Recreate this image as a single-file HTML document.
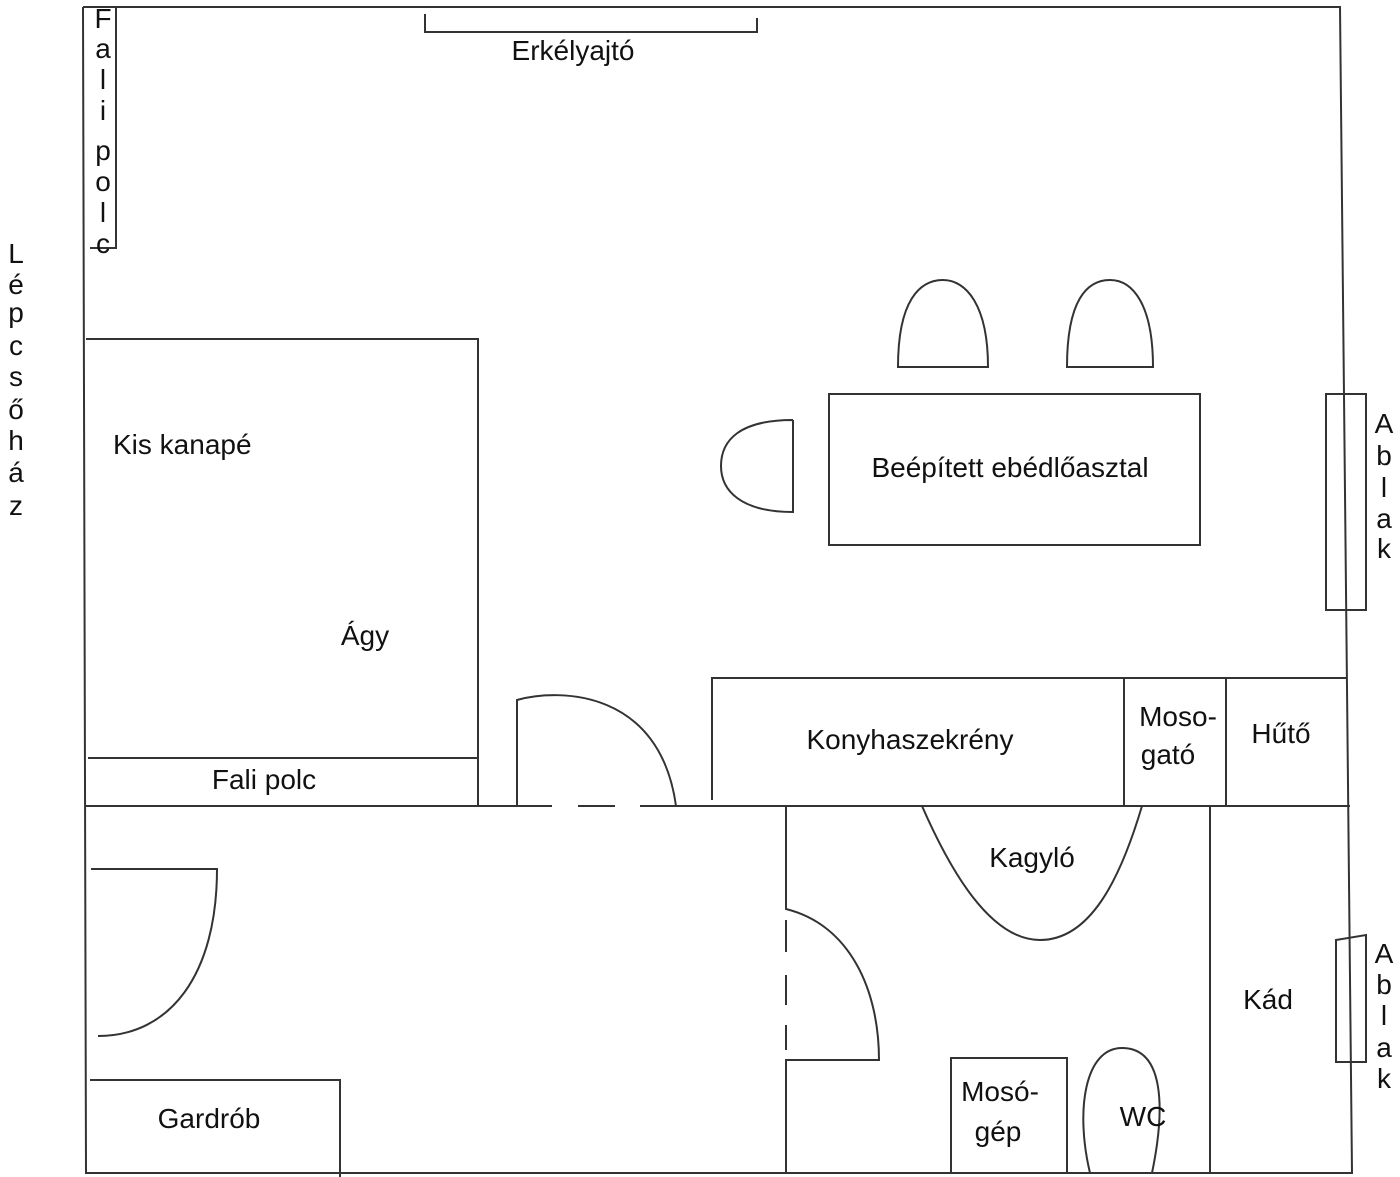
<!DOCTYPE html>
<html><head><meta charset="utf-8"><style>
html,body{margin:0;padding:0;background:#fff;}
svg{display:block;}
text{font-family:"Liberation Sans","DejaVu Sans",sans-serif;font-size:28px;fill:#111;}
.c{text-anchor:middle;}
</style></head><body>
<svg width="1400" height="1177" viewBox="0 0 1400 1177" xmlns="http://www.w3.org/2000/svg">
<g fill="none" stroke="#333" stroke-width="2">
<path d="M83,7 H1340 L1352,1173 H86 L83,7"/>
<path d="M83,7 H116 V248 H90"/>
<path d="M425,14 V32 H757 V18"/>
<path d="M86,339 H478 V806"/>
<path d="M88,758 H478"/>
<path d="M86,806 H517"/>
<path d="M676,806 H1350"/>
<path d="M517,806 V700 C560,688 660,690 676,806"/>
<path d="M517,806 H552 M578,806 H615 M640,806 H676"/>
<path d="M712,800 V678 H1347"/>
<path d="M1124,678 V806 M1226,678 V806"/>
<path d="M898,367 C898,300 920,280 943,280 C966,280 988,305 988,367 Z"/>
<path d="M1067,367 C1067,300 1087,280 1110,280 C1133,280 1153,305 1153,367 Z"/>
<path d="M793,420 V512 C740,512 721,490 721,466 C721,440 740,420 793,420"/>
<rect x="829" y="394" width="371" height="151"/>
<rect x="1326" y="394" width="40" height="216"/>
<path d="M1336,940 L1366,935 V1062 H1336 Z"/>
<path d="M786,806 V909 C850,925 879,990 879,1060 H786 V1173"/>
<path d="M786,920 V952 M786,975 V1005 M786,1025 V1050"/>
<path d="M922,806 C950,870 990,940 1040,940 C1090,940 1120,880 1142,806"/>
<path d="M1210,806 V1173"/>
<rect x="951" y="1058" width="116" height="115"/>
<path d="M1090,1173 C1075,1110 1085,1048 1122,1048 C1165,1048 1165,1110 1152,1173"/>
<path d="M91,869 H217 C217,975 170,1036 98,1036"/>
<path d="M90,1080 H340 V1177"/>
</g>
<g>
<text x="103" y="28" class="c">F</text><text x="103" y="58" class="c">a</text><text x="103" y="89" class="c">l</text><text x="103" y="120" class="c">i</text><text x="103" y="160" class="c">p</text><text x="103" y="191" class="c">o</text><text x="103" y="222" class="c">l</text><text x="103" y="253" class="c">c</text>
<text x="16" y="263" class="c">L</text><text x="16" y="294" class="c">é</text><text x="16" y="322" class="c">p</text><text x="16" y="355" class="c">c</text><text x="16" y="386" class="c">s</text><text x="16" y="419" class="c">ő</text><text x="16" y="450" class="c">h</text><text x="16" y="482" class="c">á</text><text x="16" y="515" class="c">z</text>
<text x="1384" y="433" class="c">A</text><text x="1384" y="465" class="c">b</text><text x="1384" y="497" class="c">l</text><text x="1384" y="528" class="c">a</text><text x="1384" y="558" class="c">k</text>
<text x="1384" y="963" class="c">A</text><text x="1384" y="994" class="c">b</text><text x="1384" y="1025" class="c">l</text><text x="1384" y="1057" class="c">a</text><text x="1384" y="1088" class="c">k</text>
</g>
<text x="573" y="60" class="c">Erkélyajtó</text>
<text x="113" y="454">Kis kanapé</text>
<text x="365" y="645" class="c">Ágy</text>
<text x="264" y="789" class="c">Fali polc</text>
<text x="1010" y="477" class="c">Beépített ebédlőasztal</text>
<text x="910" y="749" class="c">Konyhaszekrény</text>
<text x="1178" y="726" class="c">Moso-</text>
<text x="1168" y="764" class="c">gató</text>
<text x="1281" y="743" class="c">Hűtő</text>
<text x="1032" y="867" class="c">Kagyló</text>
<text x="1268" y="1009" class="c">Kád</text>
<text x="1000" y="1101" class="c">Mosó-</text>
<text x="998" y="1141" class="c">gép</text>
<text x="1143" y="1126" class="c">WC</text>
<text x="209" y="1128" class="c">Gardrób</text>
</svg>
</body></html>
